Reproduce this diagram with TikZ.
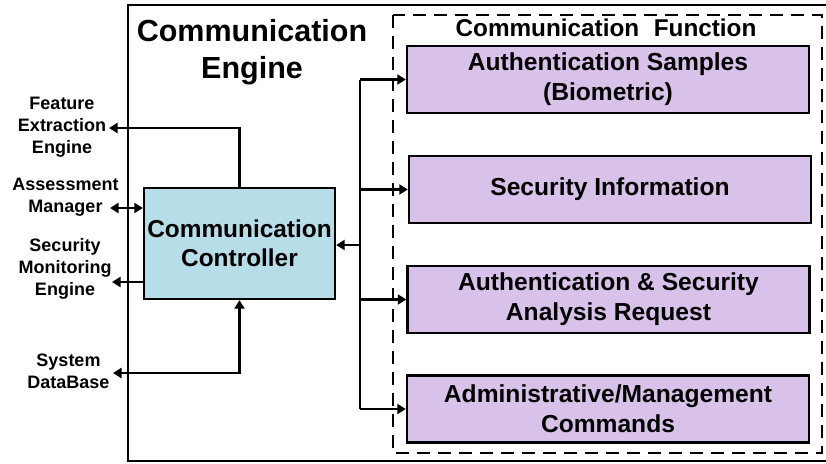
\documentclass[tikz,border=0pt]{standalone}
\usepackage{fontspec}
\setmainfont{Liberation Sans}
\usetikzlibrary{arrows.meta}
\definecolor{funcfill}{HTML}{D9C2EA}
\definecolor{ctrlfill}{HTML}{B7DDE8}
\begin{document}
\begin{tikzpicture}[x=1pt,y=-1pt,
  conn/.style={line width=2.1pt},
  arr/.style={conn,-{Triangle[length=8.5pt,width=10pt]}},
  darr/.style={conn,{Triangle[length=8.5pt,width=10pt]}-{Triangle[length=8.5pt,width=10pt]}},
  funcbox/.style={draw,line width=2.4pt,fill=funcfill,minimum width=402pt,minimum height=67pt,
    align=center,font=\bfseries\fontsize{24.6}{30}\selectfont,inner sep=0pt},
  extlabel/.style={align=center,font=\bfseries\fontsize{18}{22}\selectfont,inner sep=0pt}]
\useasboundingbox (0,0) rectangle (826,463);
\begin{scope}
\clip (0,0) rectangle (826,463);
% outer engine frame (right side runs past the page)
\draw[line width=2.3pt] (840,5) -- (128,5) -- (128,461) -- (840,461);
\end{scope}
% communication function group
\draw[line width=2.3pt,dash pattern=on 13pt off 8pt] (393,15) rectangle (822,453);

\node[font=\bfseries\fontsize{30.5}{37}\selectfont,align=center,inner sep=0pt] (title) at (252,52)
  {Communication\\Engine};
\node[font=\bfseries\fontsize{24.3}{30}\selectfont,inner sep=0pt] (ftitle) at (606,28)
  {Communication\hspace{0.6em}Function};

% controller
\node[draw,line width=2.3pt,fill=ctrlfill,minimum width=191pt,minimum height=111pt,
  align=center,font=\bfseries\fontsize{24.4}{29}\selectfont,inner sep=0pt] (ctrl) at (239.5,243.5)
  {Communication\\Controller};

% function blocks
\node[funcbox] (f1) at (608,79.5) {Authentication Samples\\(Biometric)};
\node[funcbox] (f2) at (610,189.5) {Security Information};
\node[funcbox] (f3) at (608.5,299.5) {Authentication \& Security\\Analysis Request};
\node[funcbox] (f4) at (608,409) {Administrative/Management\\Commands};

% external components
\node[extlabel] (fe) at (62,127) {Feature\\Extraction\\Engine};
\node[extlabel] (am) at (65.5,197.5) {Assessment\\Manager};
\node[extlabel] (sm) at (65,268.5) {Security\\Monitoring\\Engine};
\node[extlabel] (db) at (68.5,371) {System\\DataBase};

\coordinate (feEnd) at (109,128);
\coordinate (amEnd) at (110,208);
\coordinate (smEnd) at (112,282);
\coordinate (dbEnd) at (113,373);
\coordinate (busTop) at (360,79.5);
\coordinate (busBot) at (360,409);
\coordinate (busMid) at (360,245);

% controller links to external components
\draw[arr] (ctrl.north) |- (feEnd);
\draw[darr] (amEnd) -- (ctrl.west |- amEnd);
\draw[arr] (ctrl.west |- smEnd) -- (smEnd);
\draw[darr] (dbEnd) -| (ctrl.south);

% bus to the function blocks
\draw[conn] (busTop) -- (busBot);
\draw[arr] (busMid) -- (ctrl.east |- busMid);
\draw[arr] (busTop) -- (f1.west);
\draw[arr] (busTop |- f2.west) -- (f2.west);
\draw[arr] (busTop |- f3.west) -- (f3.west);
\draw[arr] (busBot) -- (f4.west);
\end{tikzpicture}
\end{document}
